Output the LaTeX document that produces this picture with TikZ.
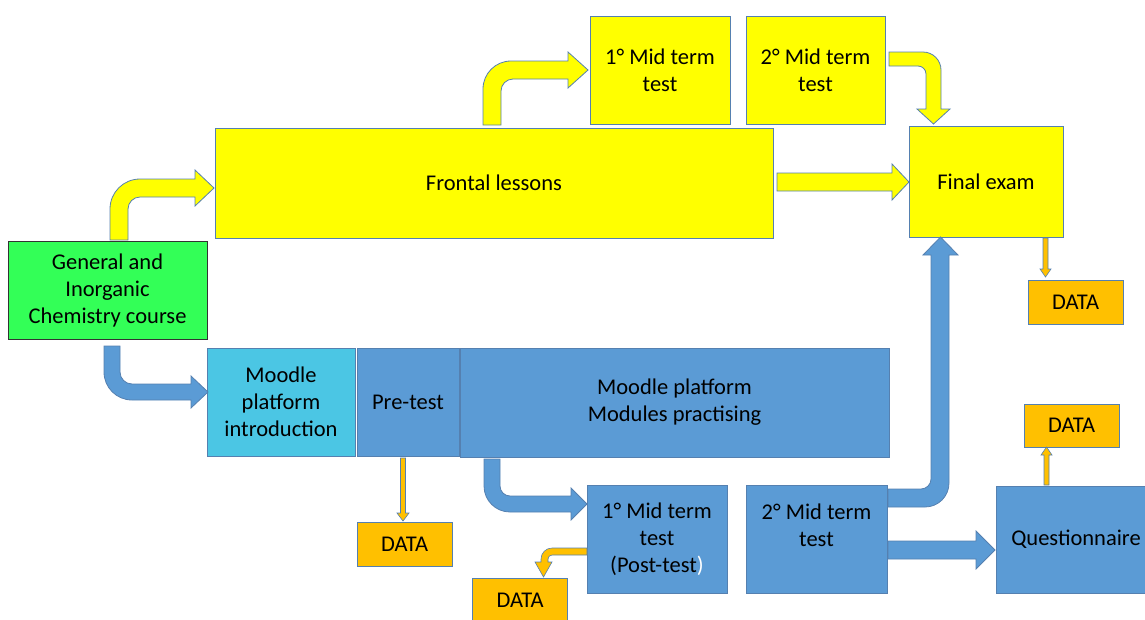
\documentclass[tikz,border=0pt]{standalone}
\usepackage{fontspec}
\setmainfont{Carlito}
\definecolor{yel}{HTML}{FFFF00}
\definecolor{grn}{HTML}{33FF57}
\definecolor{blu}{HTML}{5B9BD5}
\definecolor{lblu}{HTML}{4BC6E4}
\definecolor{org}{HTML}{FFC000}
\definecolor{edge}{HTML}{5580B0}
\begin{document}
\begin{tikzpicture}[x=1pt,y=-1pt,
  box/.style={draw=edge, line width=0.8pt, inner sep=0pt, align=center,
    font=\fontsize{22.5}{27}\selectfont},
  ybox/.style={box, fill=yel},
  bbox/.style={box, fill=blu},
  dbox/.style={box, fill=org, minimum width=95pt, minimum height=44pt, font=\fontsize{22.5}{27}\selectfont},
  yarrow/.style={fill=yel, draw=edge, line width=0.8pt, line join=miter},
  barrow/.style={fill=blu, draw=edge, line width=0.8pt, line join=miter},
  oarrow/.style={fill=org, draw=edge, line width=0.6pt, line join=miter}]
\useasboundingbox (0,0) rectangle (1145,619);

% boxes
\node[box, fill=grn, draw=black!80, minimum width=199pt, minimum height=98pt] (course) at (107.5,290) {General and\\Inorganic\\Chemistry course};
\node[ybox, minimum width=558pt, minimum height=110pt] (frontal) at (494,183) {Frontal lessons};
\node[ybox, minimum width=140pt, minimum height=108pt] (midA) at (660,70) {1° Mid term\\test};
\node[ybox, minimum width=139pt, minimum height=108pt] (midB) at (815.5,70) {2° Mid term\\test};
\node[ybox, minimum width=154pt, minimum height=111pt] (final) at (986,181.5) {Final exam};
\node[dbox] (dataF) at (1075.5,302) {DATA};
\node[box, fill=lblu, minimum width=148pt, minimum height=108pt] (intro) at (281,402) {Moodle\\platform\\introduction};
\node[bbox, minimum width=102pt, minimum height=108pt] (pre) at (408,402) {Pre-test};
\node[bbox, minimum width=429pt, minimum height=109pt] (modules) at (674.5,402.5) {Moodle platform\\Modules practising};
\node[dbox] (dataP) at (404.5,544) {DATA};
\node[bbox, minimum width=140pt, minimum height=108pt] (post) at (657,539) {1° Mid term\\test\\(Post-test\textcolor{white}{)}};
\node[bbox, minimum width=141pt, minimum height=108pt] (midC) at (816.5,539) {2° Mid term\\test\\\mbox{}};
\node[bbox, minimum width=160pt, minimum height=107pt] (quest) at (1076,539.5) {Questionnaire};
\node[dbox, minimum height=43pt] (dataQ) at (1071.5,425.5) {DATA};
\node[dbox] (dataT) at (520,600) {DATA};

% yellow arrows
\path[yarrow] (110,240) -- (110,209) .. controls (110,192.4) and (123.4,179) .. (140,179) -- (195,179) -- (195,170) -- (214,188) -- (195,206) -- (195,197) -- (140,197) .. controls (133.4,197) and (128,202.4) .. (128,209) -- (128,240) -- cycle;
\path[yarrow] (483,125) -- (483,89) .. controls (483,73.5) and (495.5,61) .. (511,61) -- (568,61) -- (568,52) -- (588,70) -- (568,88) -- (568,79) -- (513,79) .. controls (506.4,79) and (501,84.4) .. (501,91) -- (501,125) -- cycle;
\path[yarrow] (777,173) -- (892,173) -- (892,164) -- (909,182) -- (892,200) -- (892,191) -- (777,191) -- cycle;
\path[yarrow] (889,52) -- (923,52) .. controls (932.9,52) and (941,60.1) .. (941,70) -- (941,109) -- (950,109) -- (933.5,124) -- (917,109) -- (926,109) -- (926,74) .. controls (926,69.6) and (922.4,66) .. (918,66) -- (889,66) -- cycle;

% blue arrows
\path[barrow] (888,489) -- (921,489) .. controls (926.5,489) and (931,484.5) .. (931,479) -- (931,255) -- (923,255) -- (940.5,237) -- (958,255) -- (949,255) -- (949,483) .. controls (949,496.3) and (938.3,507) .. (925,507) -- (888,507) -- cycle;
\path[barrow] (104,346) -- (104,372) .. controls (104,387.5) and (116.5,400) .. (132,400) -- (191,400) -- (191,408) -- (208,392) -- (191,376) -- (191,384) -- (132,384) .. controls (125.4,384) and (120,378.6) .. (120,372) -- (120,346) -- cycle;
\path[barrow] (484,459) -- (484,486) .. controls (484,500.4) and (495.6,512) .. (510,512) -- (571,512) -- (571,520) -- (587,504) -- (571,488) -- (571,496) -- (510,496) .. controls (504.5,496) and (500,491.5) .. (500,486) -- (500,459) -- cycle;
\path[barrow] (888,541) -- (976,541) -- (976,531) -- (995,550) -- (976,569) -- (976,559) -- (888,559) -- cycle;

% orange arrows
\path[oarrow] (400.5,458) -- (400.5,513) -- (397,513) -- (403,521) -- (409,513) -- (405.5,513) -- (405.5,458) -- cycle;
\path[oarrow] (1043,238) -- (1043,269) -- (1040,269) -- (1045.5,277) -- (1051,269) -- (1048,269) -- (1048,238) -- cycle;
\path[oarrow] (1044,485) -- (1044,455) -- (1041,455) -- (1046.5,447) -- (1052,455) -- (1049,455) -- (1049,485) -- cycle;
\path[oarrow] (587,548) -- (552,548) .. controls (545.9,548) and (541,552.9) .. (541,559) -- (541,562) -- (535,562) -- (543.5,577) -- (552,562) -- (548,562) -- (548,559) .. controls (548,556.8) and (549.8,555) .. (552,555) -- (587,555) -- cycle;
\end{tikzpicture}
\end{document}
